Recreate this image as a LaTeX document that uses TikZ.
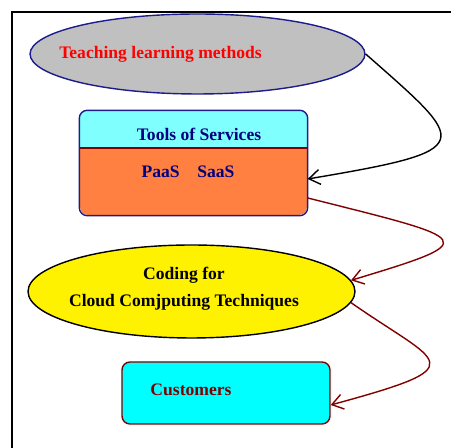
\documentclass[tikz,border=0pt]{standalone}
\usepackage{fontspec}
\setmainfont{Liberation Serif}
\usetikzlibrary{shapes.geometric,arrows.meta}

\definecolor{navyline}{HTML}{1C1C8C}
\definecolor{navytext}{HTML}{000080}
\definecolor{darkred}{HTML}{800000}
\definecolor{ovalgray}{HTML}{C0C0C0}
\definecolor{toolscyan}{HTML}{80FFFF}
\definecolor{toolsorange}{HTML}{FF8040}
\definecolor{custcyan}{HTML}{00FFFF}

\begin{document}
\begin{tikzpicture}[x=0.02cm,y=-0.02cm,
		every node/.style={font=\fontsize{10}{12}\selectfont\bfseries},
		oval/.style={ellipse,draw,line width=0.8pt,inner sep=0pt},
		box/.style={rectangle,rounded corners=4.5pt,line width=0.8pt,inner sep=0pt},
		link/.style={line width=0.8pt,-{Straight Barb[length=2.2mm,width=3mm]}}]
				\useasboundingbox (0,0) rectangle (451,448);
				\draw [line width=0.8pt] (12,448)--(12,12)--(451,12);

				% top oval
				\node [oval,draw=navyline,fill=ovalgray,minimum width=6.7cm,minimum height=1.6cm] (teach) at (197.5,54) {};
				\node [text=red] (teachtxt) at (160.5,54) {Teaching learning methods};

				% tools box, two colours
				\node [box,fill=toolsorange,minimum width=4.54cm,minimum height=2.08cm] (tools) at (193.5,163) {};
				\begin{scope}
					\clip (tools.north west) rectangle ([yshift=0.3cm]tools.east);
					\fill [toolscyan,rounded corners=4.5pt] (tools.south west) rectangle (tools.north east);
				\end{scope}
				\draw [darkred,line width=0.8pt] ([yshift=0.3cm]tools.west)--([yshift=0.3cm]tools.east);
				\draw [navyline,line width=0.8pt,rounded corners=4.5pt] (tools.south west) rectangle (tools.north east);
				\node [text=navytext] (toolstxt) at (199,134) {Tools of Services};
				\node [text=navytext] (paas) at (188,172) {PaaS\quad SaaS};

				% coding oval
				\node [oval,draw=black,fill=yellow,minimum width=6.54cm,minimum height=1.86cm] (code) at (191.5,291.5) {};
				\node [align=center] (codetxt) at (184,289) {Coding for\\[3.3pt]Cloud Comjputing Techniques};

				% customers
				\node [box,draw=darkred,fill=custcyan,minimum width=4.16cm,minimum height=1.24cm] (cust) at (226,393) {};
				\node [text=darkred] (custtxt) at (191,390) {Customers};

				\draw [link] (teach.east) .. controls (469,145) and (480,150) .. ([yshift=-0.32cm]tools.east);
				\draw [link,darkred] ([yshift=-0.7cm]tools.east) .. controls (475,240) and (485,240) .. (code.4);
				\draw [link,darkred] (code.-4) .. controls (440,365) and (478,365) .. ([yshift=-0.24cm]cust.east);
			\end{tikzpicture}
\end{document}
